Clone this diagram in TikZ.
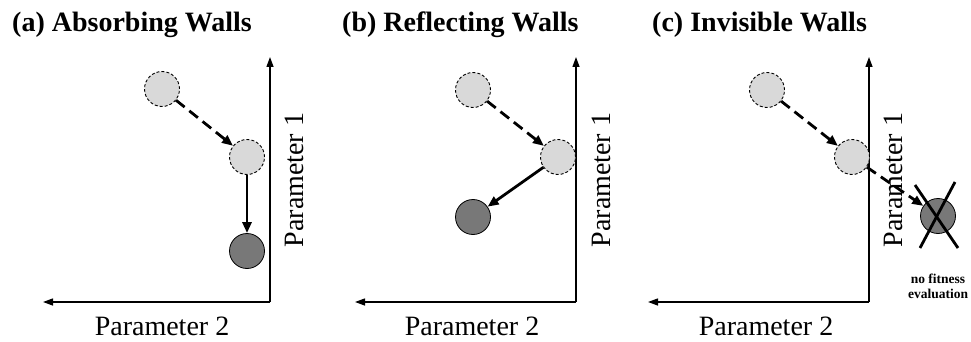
\documentclass[tikz,border=0pt]{standalone}
\usepackage{fontspec}
\setmainfont{Liberation Serif}
\usetikzlibrary{arrows.meta,positioning,calc}

\definecolor{lightball}{gray}{0.85}
\definecolor{darkball}{gray}{0.47}

\begin{document}
\begin{tikzpicture}[
                    x=1pt, y=-1pt,
                    trialball/.style={draw, circle, densely dashed, line width=0.9pt, minimum size=35pt, inner sep=0pt, fill=lightball},
                    finalball/.style={draw, circle, line width=0.8pt, minimum size=35pt, inner sep=0pt, fill=darkball},
                    axisline/.style={line width=1.3pt, -{Triangle[length=10pt,width=7pt]}},
                    movearrow/.style={line width=2.8pt, -{Triangle[length=11pt,width=9pt]}},
                    jumparrow/.style={movearrow, dash pattern=on 11pt off 6pt},
                    paneltitle/.style={font=\bfseries\fontsize{28}{32}\selectfont, anchor=base west, inner sep=0pt},
                    axislabel/.style={font=\fontsize{28}{32}\selectfont, anchor=base, inner sep=0pt},
                    crossline/.style={line width=2.8pt}
                ]
                    \useasboundingbox (0,0) rectangle (971,342);

                    % (a) absorbing walls
                    \node[paneltitle] (titleA) at (12,32) {(a) Absorbing Walls};
                    \coordinate (oA) at (270,302);
                    \coordinate (yA) at (270,57);
                    \coordinate (xA) at (43,302);
                    \draw[axisline] (oA) -- (yA);
                    \draw[axisline] (oA) -- (xA);
                    \node[axislabel, rotate=90] (p1A) at (303,180) {Parameter 1};
                    \node[axislabel] (p2A) at (162,335) {Parameter 2};
                    \node[trialball] (a1) at (162,89) {};
                    \node[trialball] (a2) at (247,157) {};
                    \node[finalball] (a3) at (247,251) {};
                    \draw[jumparrow] (a1) -- (a2);
                    \draw[movearrow] (a2) -- (a3);

                    % (b) reflecting walls
                    \node[paneltitle] (titleB) at (342,32) {(b) Reflecting Walls};
                    \coordinate (oB) at (576,302);
                    \coordinate (yB) at (576,57);
                    \coordinate (xB) at (355,302);
                    \draw[axisline] (oB) -- (yB);
                    \draw[axisline] (oB) -- (xB);
                    \node[axislabel, rotate=90] (p1B) at (610,180) {Parameter 1};
                    \node[axislabel] (p2B) at (472,335) {Parameter 2};
                    \node[trialball] (b1) at (473,90) {};
                    \node[trialball] (b2) at (558,157) {};
                    \node[finalball] (b3) at (473,217) {};
                    \draw[jumparrow] (b1) -- (b2);
                    \draw[movearrow] (b2) -- (b3);

                    % (c) invisible walls
                    \node[paneltitle] (titleC) at (652,32) {(c) Invisible Walls};
                    \coordinate (oC) at (869,302);
                    \coordinate (yC) at (869,57);
                    \coordinate (xC) at (648,302);
                    \draw[axisline] (oC) -- (yC);
                    \draw[axisline] (oC) -- (xC);
                    \node[trialball] (c1) at (767,90) {};
                    \node[trialball] (c2) at (852,157) {};
                    \node[finalball] (c3) at (938,216) {};
                    \draw[jumparrow] (c1) -- (c2);
                    \draw[jumparrow] (c2) -- (c3);
                    \draw[crossline] ($(c3)+(-23,-31)$) -- ($(c3)+(20,32)$);
                    \draw[crossline] ($(c3)+(17,-34)$) -- ($(c3)+(-18,32)$);
                    \node[axislabel, rotate=90] (p1C) at (902,180) {Parameter 1};
                    \node[axislabel] (p2C) at (766,335) {Parameter 2};
                    \node[below=40pt of c3, align=center, font=\bfseries\fontsize{13.5}{15}\selectfont, inner sep=0pt] (nofit) {no fitness\\evaluation};
                \end{tikzpicture}
\end{document}
